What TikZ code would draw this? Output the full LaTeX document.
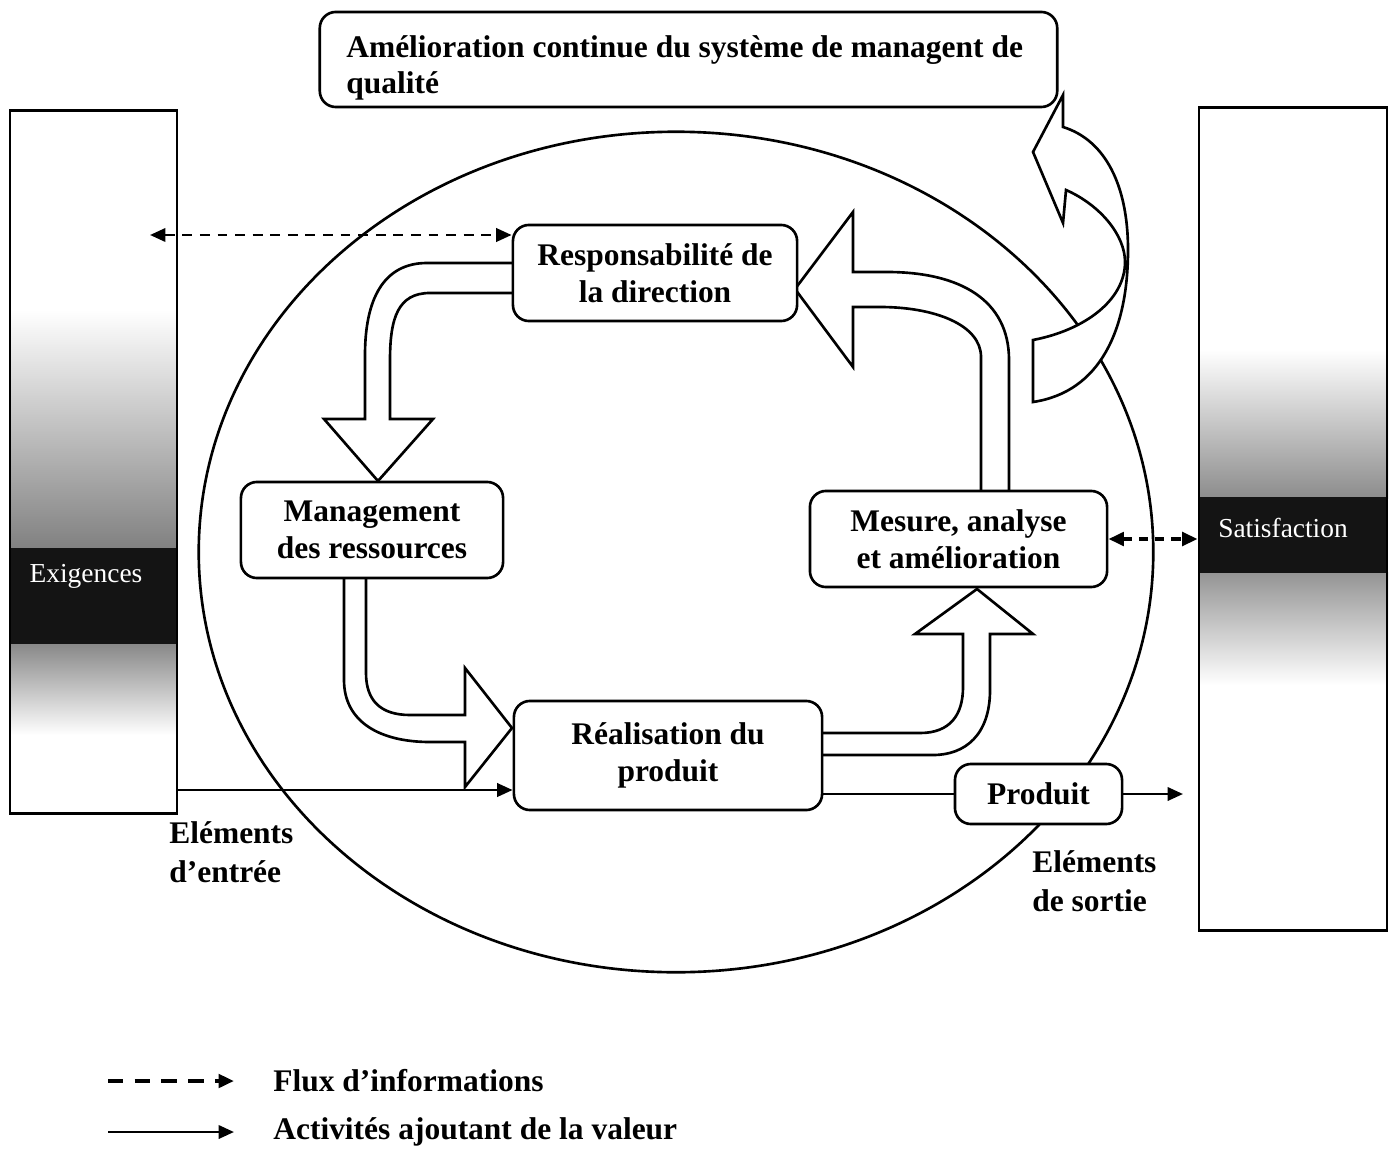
\documentclass[tikz,border=0pt]{standalone}
\usepackage{fontspec}
\setmainfont{Liberation Serif}
\usetikzlibrary{arrows.meta,calc}

\begin{document}
\begin{tikzpicture}[x=0.01cm,y=-0.01cm,line width=0.75pt,
  proc/.style={draw, rounded corners=0.16cm, fill=white, inner sep=0pt,
    font=\bfseries\fontsize{8.95}{10.5}\selectfont, align=center},
  lbl/.style={inner sep=0pt, font=\bfseries\fontsize{8.95}{11}\selectfont, align=left},
  colbox/.style={draw, inner sep=0pt},
  bandbox/.style={fill=black!92, draw=none, inner sep=0pt},
  bandtext/.style={text=white, inner sep=0pt, font=\fontsize{7.8}{9}\selectfont},
  headtip/.tip={Triangle[length=4.4pt,width=3.8pt]},
  flow/.style={-headtip},
  info/.style={headtip-headtip, dash pattern=on 2.8pt off 2.2pt},
  infobold/.style={headtip-headtip, line width=1.2pt, dash pattern=on 2.6pt off 2pt},
  legenddash/.style={-headtip, line width=1.1pt, dash pattern=on 4.4pt off 3.2pt},
  blockarrow/.style={draw, fill=white, line join=miter}
]
\useasboundingbox (0,0) rectangle (1389,1149);

% ---- side columns: grey haze and dark bands ----
\shade[top color=white, bottom color=black!50] (10,310) rectangle (177,551);
\shade[top color=black!48, bottom color=white] (10,641) rectangle (177,735);
\node[bandbox, minimum width=1.67cm, minimum height=0.96cm] (exigband) at (93.5,596) {};
\node[bandtext] (exigtxt) at (86,576) {Exigences};
\node[colbox, minimum width=1.67cm, minimum height=7.02cm] (exig) at (93.5,462) {};

\shade[top color=white, bottom color=black!45] (1199,350) rectangle (1388,498);
\shade[top color=black!42, bottom color=white] (1199,572) rectangle (1388,685);
\node[bandbox, minimum width=1.89cm, minimum height=0.76cm] (satband) at (1293.5,535) {};
\node[bandtext] (sattxt) at (1283,528) {Satisfaction};
\node[colbox, minimum width=1.88cm, minimum height=8.22cm] (sat) at (1293,519) {};

% ---- the surrounding ellipse ----
\draw (676,552) ellipse [x radius=4.77cm, y radius=4.2cm];

% ---- hollow block arrows of the process loop ----
% direction -> resources
\draw[blockarrow] (513,263) -- (427,263) .. controls (383,263) and (365,300) .. (365,355)
  -- (365,419) -- (324,419) -- (378,481) -- (433,419) -- (390,419) -- (390,360)
  .. controls (390,318) and (398,293) .. (430,293) -- (513,293);
% resources -> realisation
\draw[blockarrow] (344,578) -- (344,680) .. controls (344,722) and (380,742) .. (430,742)
  -- (465,742) -- (465,787) -- (512,728) -- (465,668) -- (465,715) -- (410,715)
  .. controls (380,715) and (366,700) .. (366,673) -- (366,578);
% realisation -> measurement
\draw[blockarrow] (822,733) -- (920,733) .. controls (950,733) and (963,715) .. (963,687)
  -- (963,634) -- (915,634) -- (977,589) -- (1033,634) -- (990,634) -- (990,690)
  .. controls (990,735) and (965,755) .. (933,755) -- (822,755);
% measurement -> direction
\draw[blockarrow] (981,491) -- (981,357) .. controls (981,325) and (935,307) .. (880,307)
  -- (853,307) -- (853,367) -- (795,289) -- (853,212) -- (853,272) -- (887,272)
  .. controls (960,272) and (1009,300) .. (1009,360) -- (1009,491);
% curved arrow towards continual improvement
\draw[blockarrow] (1033,402) -- (1033,340) .. controls (1085,330) and (1125,300) .. (1125,262)
  .. controls (1125,235) and (1100,205) .. (1066,190) -- (1063,223) -- (1033,152)
  -- (1063,95) -- (1063,127) .. controls (1105,140) and (1128,185) .. (1128,250)
  .. controls (1128,330) and (1100,392) .. (1033,402) -- cycle;

% ---- process boxes ----
\node[proc, minimum width=7.37cm, minimum height=0.95cm] (qual) at (688.5,59.5) {};
\node[lbl, font=\bfseries\fontsize{8.95}{10.3}\selectfont, anchor=west] (qualtxt) at (345,68)
  {Amélioration continue du système de managent de\\qualité};
\node[proc, minimum width=2.84cm, minimum height=0.96cm] (resp) at (655,273)
  {Responsabilité de\\la direction};
\node[proc, minimum width=2.62cm, minimum height=0.96cm] (mgmt) at (372,530)
  {Management\\des ressources};
\node[proc, minimum width=2.97cm, minimum height=0.96cm] (mesure) at (958.5,539)
  {Mesure, analyse\\et amélioration};
\node[proc, minimum width=3.08cm, minimum height=1.09cm] (real) at (668,755.5)
  {Réalisation du\\produit};
\node[proc, minimum width=1.67cm, minimum height=0.60cm] (produit) at (1038.5,794)
  {Produit};

% ---- information flows ----
\coordinate (reqEnd) at (150,235);
\draw[info] (reqEnd) -- (resp.west |- reqEnd);
\draw[infobold] (mesure.east) -- (mesure.east -| sat.west);

% ---- value-adding flows ----
\coordinate (inLevel) at (0,790);
\draw[flow] (exig.east |- inLevel) -- (real.west |- inLevel);
\draw (real.east |- produit.west) -- (produit.west);
\coordinate (outEnd) at (1183,794);
\draw[flow] (produit.east) -- (outEnd);

\node[lbl, anchor=west] (inLbl) at (168,852) {Eléments\\d’entrée};
\node[lbl, anchor=west] (outLbl) at (1031,881) {Eléments\\de sortie};

% ---- legend ----
\coordinate (lgA) at (108,1081);
\coordinate (lgB) at (234,1081);
\coordinate (lgC) at (108,1132);
\coordinate (lgD) at (234,1132);
\draw[legenddash] (lgA) -- (lgB);
\draw[flow] (lgC) -- (lgD);
\node[lbl, anchor=west] (lgInfo) at (272,1081) {Flux d’informations};
\node[lbl, anchor=west] (lgValue) at (272,1132) {Activités ajoutant de la valeur};
\end{tikzpicture}
\end{document}
